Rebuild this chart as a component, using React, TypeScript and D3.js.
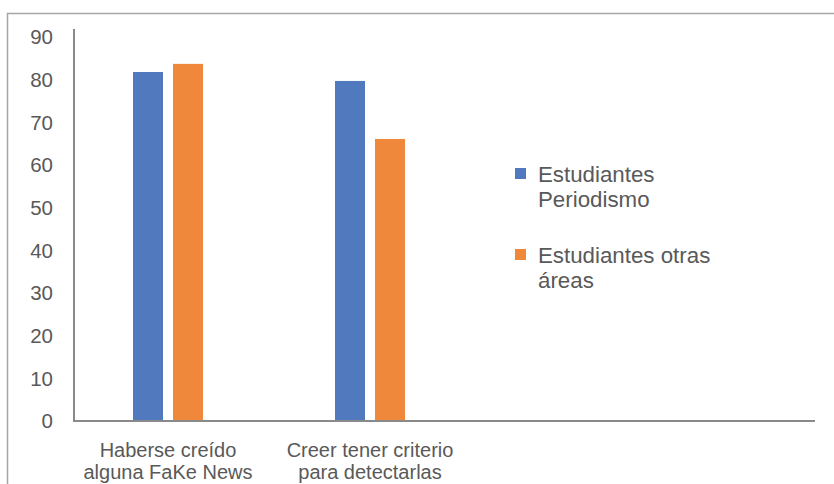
import React from "react";
import * as d3 from "d3";

// Survey results: share of students (%) by question
const categories: string[][] = [
  ["Haberse creído", "alguna FaKe News"],
  ["Creer tener criterio", "para detectarlas"],
];
const seriesNames: string[][] = [
  ["Estudiantes", "Periodismo"],
  ["Estudiantes otras", "áreas"],
];
const periodismo = [81.8, 79.7];
const otrasAreas = [83.7, 66.1];
const yTicks = [0, 10, 20, 30, 40, 50, 60, 70, 80, 90];
const colors = ["#5079be", "#ef883b"];

const W = 834;
const H = 484;
const FONT = "'Liberation Sans', Arial, Helvetica, sans-serif";
const TEXT = "#595959";

export default function App() {
  const y = d3.scaleLinear().domain([0, 90]).range([421, 37]);
  const x0 = d3
    .scaleBand<number>()
    .domain(d3.range(categories.length))
    .range([67, 471]);
  // two bars per category, offsets relative to the category centre
  const x1 = d3
    .scaleBand<number>()
    .domain([0, 1])
    .range([-35, 35])
    .paddingInner(0.25);
  const series = [periodismo, otrasAreas];

  return (
    <svg
      width={W}
      height={H}
      style={{ position: "absolute", left: 0, top: 0, background: "#fff" }}
      fontFamily={FONT}
    >
      {/* outer chart frame */}
      <rect x={7.5} y={13.5} width={840} height={500} fill="none" stroke="#a6a6a6" strokeWidth={1.5} />

      {/* bars */}
      {series.map((vals, s) =>
        vals.map((v, i) => {
          const cx = (x0(i) as number) + x0.bandwidth() / 2;
          return (
            <rect
              key={`${s}-${i}`}
              x={cx + (x1(s) as number)}
              y={y(v)}
              width={x1.bandwidth()}
              height={y(0) - y(v)}
              fill={colors[s]}
            />
          );
        })
      )}

      {/* axes */}
      <line x1={74} x2={74} y1={29} y2={421} stroke="#898989" strokeWidth={2} />
      <line x1={73} x2={815} y1={421} y2={421} stroke="#898989" strokeWidth={2} />

      {/* y tick labels */}
      {yTicks.map((t) => (
        <text
          key={t}
          x={53}
          y={y(t)}
          dy="0.35em"
          textAnchor="end"
          fontSize={20.5}
          fill={TEXT}
        >
          {t}
        </text>
      ))}

      {/* category labels */}
      {categories.map((lines, i) => {
        const cx = (x0(i) as number) + x0.bandwidth() / 2;
        return (
          <text key={i} textAnchor="middle" fontSize={20} fill={TEXT}>
            {lines.map((l, k) => (
              <tspan key={k} x={cx} y={457 + k * 22}>
                {l}
              </tspan>
            ))}
          </text>
        );
      })}

      {/* legend */}
      {seriesNames.map((lines, s) => {
        const top = 168 + s * 81;
        return (
          <g key={s}>
            <rect x={515} y={top} width={11} height={11} fill={colors[s]} />
            <text fontSize={22.3} fill={TEXT}>
              {lines.map((l, k) => (
                <tspan key={k} x={538} y={top + 14 + k * 25}>
                  {l}
                </tspan>
              ))}
            </text>
          </g>
        );
      })}
    </svg>
  );
}
